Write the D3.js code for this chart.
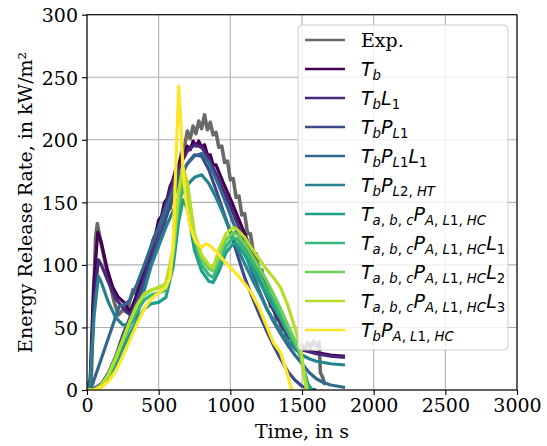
<!DOCTYPE html>
<html>
<head>
<meta charset="utf-8">
<script src="https://cdn.jsdelivr.net/npm/d3@7"></script>
<style>
  html, body { margin: 0; padding: 0; background: #fff; }
  svg { display: block; }
</style>
</head>
<body>
<svg id="chart" width="547" height="446"></svg>
<script>
// ---------------- DATA ----------------
const xTicks = [0, 500, 1000, 1500, 2000, 2500, 3000];
const yTicks = [0, 50, 100, 150, 200, 250, 300];
const xLabel = "Time, in s";
const yLabel = "Energy Release Rate, in kW/m²";

const seriesNames = ["Exp.", "T_b", "T_bL_1", "T_bP_L1", "T_bP_L1L_1", "T_bP_L2,HT",
  "T_abcP_AL1HC", "T_abcP_AL1HC L_1", "T_abcP_AL1HC L_2", "T_abcP_AL1HC L_3", "T_bP_AL1HC"];
const seriesColors = ["#696969", "#440154", "#482878", "#3e4989", "#31688e", "#26828e",
  "#1f9e89", "#35b779", "#6ece58", "#b5de2b", "#fde725"];

const dExp = [[0,0],[15,6],[30,8],[45,70],[60,122],[72,133],[85,125],[100,116],[130,100],[160,85],[190,70],[220,60],[250,64],[280,62],[300,72],[320,80],[340,77],[360,86],[380,84],[400,97],[420,94],[440,110],[460,106],[480,123],[500,121],[520,136],[540,132],[560,148],[580,145],[600,160],[620,166],[640,176],[660,190],[680,194],[700,207],[720,201],[740,211],[760,205],[780,215],[800,209],[820,220],[840,208],[860,214],[880,204],[900,206],[920,194],[940,195],[960,182],[980,183],[1000,168],[1020,169],[1040,154],[1060,155],[1080,140],[1100,141],[1120,125],[1140,125],[1160,110],[1180,109],[1200,95],[1220,96],[1240,81],[1260,83],[1280,67],[1300,69],[1320,56],[1340,58],[1360,48],[1380,50],[1400,41],[1420,44],[1440,36],[1460,39],[1480,33],[1500,36],[1520,32],[1540,38],[1560,34],[1580,39],[1600,35],[1620,38],[1628,14],[1645,10],[1660,4]];
const dTb = [[0,0],[20,2],[45,80],[75,126],[100,118],[140,97],[180,82],[220,74],[260,70],[300,62],[340,74],[380,88],[420,104],[440,109],[460,120],[480,125],[500,136],[520,139],[540,150],[560,153],[580,163],[600,168],[620,177],[640,180],[660,188],[680,187],[700,195],[720,192],[740,199],[760,195],[780,199],[800,194],[820,196],[840,188],[860,188],[880,180],[900,180],[950,166],[1000,153],[1050,139],[1100,125],[1150,110],[1200,96],[1250,82],[1300,68],[1350,56],[1400,46],[1450,38],[1500,33],[1550,31],[1600,30],[1700,28],[1800,27]];
const dTbL1 = [[0,0],[20,2],[50,72],[80,104],[100,100],[150,86],[200,73],[250,66],[300,60],[350,72],[400,90],[450,110],[500,130],[550,149],[600,166],[650,180],[700,191],[750,196],[800,194],[850,185],[900,173],[950,160],[1000,147],[1050,133],[1100,118],[1150,103],[1200,89],[1250,76],[1300,64],[1350,53],[1400,44],[1450,37],[1500,32],[1600,29],[1700,27],[1800,26]];
const dTbPL1 = [[0,0],[30,0],[100,5],[150,14],[200,27],[250,44],[300,58],[350,70],[400,86],[450,103],[500,120],[550,137],[600,154],[650,169],[700,181],[750,188],[800,187],[850,176],[900,160],[950,143],[1000,126],[1050,108],[1100,90],[1150,75],[1200,61],[1250,48],[1300,36],[1350,25],[1400,15],[1450,8],[1500,3],[1550,1],[1600,0]];
const dTbPL1L1 = [[0,0],[25,0],[225,67],[260,68],[300,72],[350,85],[400,100],[450,116],[500,130],[550,145],[600,160],[650,172],[700,181],[750,187],[800,189],[850,182],[900,169],[950,155],[1000,140],[1050,125],[1100,110],[1150,95],[1200,80],[1250,66],[1300,55],[1350,45],[1400,36],[1450,28],[1500,21],[1550,14],[1600,9],[1650,6],[1700,4],[1750,3],[1800,2]];
const dTbPL2HT = [[0,0],[20,2],[50,60],[80,91],[100,86],[150,70],[200,58],[250,52],[300,52],[350,60],[400,80],[450,100],[500,115],[550,130],[600,143],[650,155],[700,164],[750,170],[800,172],[850,165],[900,154],[950,141],[1000,127],[1050,113],[1100,101],[1150,89],[1200,78],[1250,66],[1300,56],[1350,47],[1400,39],[1450,33],[1500,28],[1550,25],[1600,23],[1700,21],[1800,20]];
const dAbc = [[0,0],[50,0],[100,3],[150,10],[200,20],[250,33],[300,45],[350,56],[400,65],[450,69],[500,70],[550,74],[600,98],[640,135],[670,152],[700,145],[750,112],[800,95],[850,87],[880,86],[920,95],[970,110],[1020,117],[1050,116],[1100,108],[1150,98],[1200,87],[1250,77],[1300,67],[1350,57],[1400,46],[1450,36],[1480,30],[1510,18],[1540,5],[1570,0]];
const dAbcL1 = [[0,0],[50,0],[100,3],[150,12],[200,24],[250,38],[300,52],[350,63],[400,72],[450,76],[500,78],[550,80],[600,105],[640,145],[670,165],[700,158],[750,120],[800,100],[850,92],[880,90],[920,100],[970,115],[1020,122],[1050,120],[1100,112],[1150,103],[1200,93],[1250,82],[1300,72],[1350,60],[1400,48],[1450,37],[1490,30],[1520,12],[1545,0]];
const dAbcL2 = [[0,0],[50,0],[100,4],[150,13],[200,26],[250,40],[300,55],[350,68],[400,76],[450,80],[500,82],[550,84],[600,110],[640,155],[670,172],[700,163],[750,122],[800,105],[850,97],[880,95],[920,108],[970,120],[1020,126],[1050,124],[1100,117],[1150,108],[1200,98],[1250,88],[1300,77],[1350,65],[1400,52],[1450,40],[1490,29],[1520,10],[1540,0]];
const dAbcL3 = [[0,0],[50,0],[100,4],[150,12],[200,25],[250,40],[300,55],[350,68],[400,77],[450,80],[500,82],[550,85],[600,112],[640,160],[670,178],[700,166],[750,125],[800,108],[850,100],[880,98],[920,112],[970,125],[1020,130],[1050,128],[1100,122],[1150,113],[1200,105],[1250,97],[1300,90],[1350,82],[1400,68],[1450,50],[1490,34],[1515,12],[1530,0]];
const dTbPA = [[0,0],[50,0],[100,2],[150,7],[200,15],[250,27],[300,40],[350,53],[400,65],[450,73],[500,78],[550,82],[580,90],[600,115],[620,180],[640,243],[655,212],[670,175],[690,152],[720,130],[760,118],[800,114],[830,117],[860,115],[900,111],[950,104],[1000,98],[1050,92],[1100,85],[1150,77],[1200,66],[1250,52],[1300,38],[1350,30],[1400,12],[1420,3],[1435,0]];

const seriesData = [dExp, dTb, dTbL1, dTbPL1, dTbPL1L1, dTbPL2HT, dAbc, dAbcL1, dAbcL2, dAbcL3, dTbPA];

// legend label pieces: [text, kind]  kind: r=serif roman, i=italic, s=italic subscript, u=upright subscript
const legendLabels = [
  [["Exp.","r"]],
  [["T","i"],["b","s"]],
  [["T","i"],["b","s"],["L","i"],["1","u"]],
  [["T","i"],["b","s"],["P","i"],["L","s"],["1","u"]],
  [["T","i"],["b","s"],["P","i"],["L","s"],["1","u"],["L","i"],["1","u"]],
  [["T","i"],["b","s"],["P","i"],["L","s"],["2, ","u"],["HT","s"]],
  [["T","i"],["a","s"],[", ","u"],["b","s"],[", ","u"],["c","s"],["P","i"],["A","s"],[", ","u"],["L","s"],["1, ","u"],["HC","s"]],
  [["T","i"],["a","s"],[", ","u"],["b","s"],[", ","u"],["c","s"],["P","i"],["A","s"],[", ","u"],["L","s"],["1, ","u"],["HC","s"],["L","i"],["1","u"]],
  [["T","i"],["a","s"],[", ","u"],["b","s"],[", ","u"],["c","s"],["P","i"],["A","s"],[", ","u"],["L","s"],["1, ","u"],["HC","s"],["L","i"],["2","u"]],
  [["T","i"],["a","s"],[", ","u"],["b","s"],[", ","u"],["c","s"],["P","i"],["A","s"],[", ","u"],["L","s"],["1, ","u"],["HC","s"],["L","i"],["3","u"]],
  [["T","i"],["b","s"],["P","i"],["A","s"],[", ","u"],["L","s"],["1, ","u"],["HC","s"]]
];

// ---------------- LAYOUT ----------------
const svg = d3.select("#chart");
const pL = 87, pR = 517, pT = 14.7, pB = 390;
const serif = "'DejaVu Serif', serif";
const sans = "'DejaVu Sans', sans-serif";
const fs = 19;

const x = d3.scaleLinear().domain([0, 3000]).range([pL, pR]);
const y = d3.scaleLinear().domain([0, 300]).range([pB, pT]);

// grid
const grid = svg.append("g");
grid.selectAll("line.gx").data(xTicks).join("line")
  .attr("x1", d => x(d)).attr("x2", d => x(d)).attr("y1", pT).attr("y2", pB)
  .attr("stroke", "#b0b0b0").attr("stroke-width", 1.1);
grid.selectAll("line.gy").data(yTicks).join("line")
  .attr("y1", d => y(d)).attr("y2", d => y(d)).attr("x1", pL).attr("x2", pR)
  .attr("stroke", "#b0b0b0").attr("stroke-width", 1.1);

// lines
svg.append("clipPath").attr("id", "clip").append("rect")
  .attr("x", pL).attr("y", pT).attr("width", pR - pL).attr("height", pB - pT);
const line = d3.line().x(d => x(d[0])).y(d => y(d[1]));
const lines = svg.append("g").attr("clip-path", "url(#clip)");
seriesData.forEach((d, i) => {
  lines.append("path").datum(d).attr("d", line)
    .attr("fill", "none").attr("stroke", seriesColors[i])
    .attr("stroke-width", i === 0 ? 3.6 : 3.2)
    .attr("stroke-linejoin", "round");
});

// axes
const xAxis = svg.append("g").attr("transform", `translate(0,${pB})`)
  .call(d3.axisBottom(x).tickValues(xTicks).tickFormat(d3.format("d")).tickSizeOuter(0).tickSize(5).tickPadding(4));
const yAxis = svg.append("g").attr("transform", `translate(${pL},0)`)
  .call(d3.axisLeft(y).tickValues(yTicks).tickFormat(d3.format("d")).tickSizeOuter(0).tickSize(5).tickPadding(4));
[xAxis, yAxis].forEach(a => {
  a.select(".domain").remove();
  a.selectAll("text").attr("font-family", serif).attr("font-size", fs).attr("fill", "#000");
  a.selectAll("line").attr("stroke", "#000").attr("stroke-width", 1.1);
});
yAxis.selectAll("text").attr("dy", "0.36em");

// frame
svg.append("rect").attr("x", pL).attr("y", pT).attr("width", pR - pL).attr("height", pB - pT)
  .attr("fill", "none").attr("stroke", "#000").attr("stroke-width", 1.1);

// axis labels
svg.append("text").attr("x", (pL + pR) / 2).attr("y", 438)
  .attr("text-anchor", "middle").attr("font-family", serif).attr("font-size", fs).text(xLabel);
svg.append("text").attr("transform", `translate(32,${(pT + pB) / 2}) rotate(-90)`)
  .attr("text-anchor", "middle").attr("font-family", serif).attr("font-size", fs).text(yLabel);

// legend
const lg = svg.append("g");
lg.append("rect").attr("x", 298).attr("y", 25).attr("width", 210).attr("height", 325)
  .attr("rx", 4).attr("fill", "#fff").attr("fill-opacity", 0.8)
  .attr("stroke", "#cccccc").attr("stroke-width", 1);
const rowY = i => 40 + i * 29;
legendLabels.forEach((parts, i) => {
  const cy = rowY(i);
  lg.append("line").attr("x1", 305).attr("x2", 345).attr("y1", cy).attr("y2", cy)
    .attr("stroke", seriesColors[i]).attr("stroke-width", 2.7);
  const t = lg.append("text").attr("x", 361).attr("y", cy + 7).attr("font-size", fs);
  let off = 0;
  parts.forEach(([txt, kind]) => {
    const sub = (kind === "s" || kind === "u");
    const target = sub ? 4 : 0;
    t.append("tspan").attr("dy", target - off).text(txt)
      .attr("font-family", kind === "r" ? serif : sans)
      .attr("font-style", (kind === "i" || kind === "s") ? "italic" : "normal")
      .attr("font-size", sub ? 13.3 : fs);
    off = target;
  });
});
</script>
</body>
</html>
